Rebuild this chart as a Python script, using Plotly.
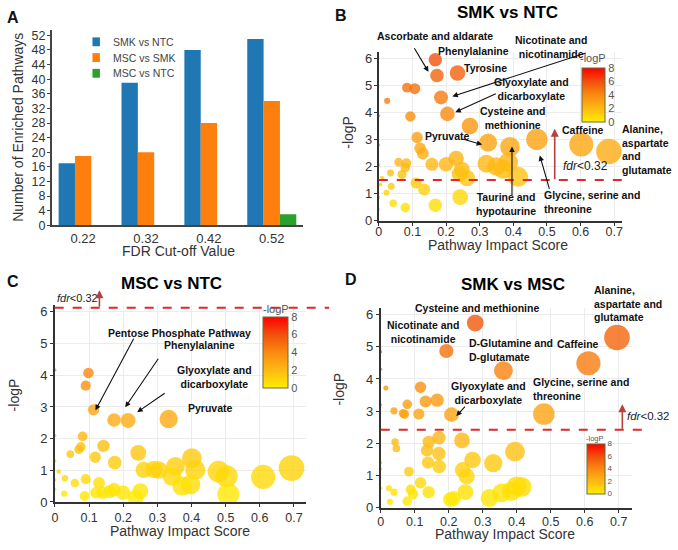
import math
import plotly.graph_objects as go

W, H = 678, 550
FONT = "Liberation Sans, Arial, sans-serif"

def px(x):
    return x / W

def py(y):
    return 1 - y / H

# ---------------- Panel A data ----------------
fdr_cutoffs = ["0.22", "0.32", "0.42", "0.52"]
series_names = ["SMK vs NTC", "MSC vs SMK", "MSC vs NTC"]
series_colors = ["#1f77b4", "#ff7f0e", "#2ca02c"]
smk_vs_ntc = [17, 39, 48, 51]
msc_vs_smk = [19, 20, 28, 34]
msc_vs_ntc = [0, 0, 0, 3]
a_yticks = list(range(0, 53, 4))

# ---------------- Panel B data (SMK vs NTC) ----------------
b_impact = [0.168, 0.173, 0.234, 0.084, 0.107, 0.025, 0.185, 0.204, 0.094, 0.271,
            0.114, 0.325, 0.390, 0.470, 0.602, 0.684, 0.123, 0.131, 0.158, 0.200,
            0.230, 0.247, 0.262, 0.240, 0.320, 0.350, 0.385, 0.414, 0.370, 0.059,
            0.082, 0.079, 0.069, 0.035, 0.010, 0.037, 0.023, 0.111, 0.135, 0.043,
            0.079, 0.168, 0.242, 0.005, 0.0, 0.0, 0.0, 0.0, 0.0]
b_logp = [5.94, 5.36, 5.45, 4.91, 4.87, 4.42, 4.55, 3.94, 3.85, 3.49,
          3.07, 2.88, 2.73, 3.00, 2.81, 2.55, 2.67, 2.48, 2.08, 2.08,
          2.30, 1.88, 1.57, 1.72, 2.10, 2.00, 2.15, 1.62, 1.90, 2.16,
          2.12, 1.96, 1.70, 1.76, 1.57, 1.27, 1.03, 1.39, 1.15, 0.64,
          0.48, 0.57, 0.87, 1.33, 3.87, 2.79, 2.06, 0.87, 0.42]

# ---------------- Panel C data (MSC vs NTC) ----------------
c_impact = [0.098, 0.090, 0.113, 0.173, 0.214, 0.333, 0.081, 0.076, 0.070, 0.045,
            0.142, 0.118, 0.175, 0.244, 0.260, 0.290, 0.011, 0.029, 0.058, 0.090,
            0.129, 0.027, 0.087, 0.120, 0.173, 0.200, 0.250, 0.401, 0.411, 0.479,
            0.503, 0.508, 0.610, 0.693, 0.397, 0.353, 0.343, 0.372, 0.304, 0.139,
            0.160, 0.236, 0.0, 0.0, 0.0, 0.0, 0.0]
c_logp = [4.07, 3.67, 2.91, 2.59, 2.57, 2.62, 2.07, 1.74, 1.66, 1.51,
          1.77, 1.41, 1.24, 1.55, 1.01, 1.03, 0.96, 0.75, 0.60, 0.72,
          0.60, 0.26, 0.19, 0.29, 0.39, 0.29, 0.34, 1.38, 1.01, 0.96,
          0.81, 0.24, 0.79, 1.07, 0.55, 1.12, 0.80, 0.50, 1.01, 0.29,
          0.33, 0.13, 4.17, 2.10, 1.30, 0.70, 0.40]

# ---------------- Panel D data (SMK vs MSC) ----------------
d_impact = [0.278, 0.193, 0.361, 0.695, 0.611, 0.480, 0.117, 0.078, 0.132, 0.166,
            0.112, 0.066, 0.039, 0.208, 0.070, 0.015, 0.042, 0.046, 0.141, 0.136,
            0.171, 0.171, 0.139, 0.172, 0.239, 0.270, 0.241, 0.253, 0.331, 0.395,
            0.083, 0.117, 0.088, 0.095, 0.141, 0.205, 0.249, 0.320, 0.356, 0.385,
            0.400, 0.078, 0.039, 0.024, 0.027, 0.214, 0.414, 0.0, 0.0, 0.0,
            0.0, 0.0, 0.0]
d_logp = [5.74, 4.87, 4.26, 5.29, 4.49, 2.91, 3.74, 3.21, 3.30, 3.34,
          2.91, 2.93, 3.01, 2.89, 2.90, 3.72, 2.04, 1.84, 2.04, 1.78,
          2.17, 1.68, 1.40, 1.28, 2.09, 1.48, 1.17, 0.97, 1.38, 1.74,
          1.12, 0.77, 0.56, 0.42, 0.48, 0.25, 0.48, 0.30, 0.46, 0.51,
          0.66, 0.20, 0.48, 0.60, 0.18, 0.28, 0.64, 4.85, 4.30, 3.20,
          1.40, 1.20, 0.60]

fdr_threshold_b = 1.5
fdr_threshold_c = 6.13
fdr_threshold_d = 2.42

colorscale = [[0, "#ffee00"], [0.25, "#ffb914"], [0.5, "#fa8a10"],
              [0.75, "#f2500c"], [1, "#ff0000"]]


def bubble_sizes(xs):
    return [max(3.0, 1.5 + 29 * math.sqrt(v)) for v in xs]


def cbar(x0, y0, length, thick, fs):
    return dict(x=px(x0), y=py(y0), xanchor="left", yanchor="top",
                len=length, lenmode="pixels", thickness=thick, thicknessmode="pixels",
                xpad=0, ypad=0, outlinewidth=1, outlinecolor="#6b6b3a",
                tickvals=[0, 2, 4, 6, 8], ticks="", ticklabelposition="outside",
                tickfont=dict(size=fs, color="#555", family=FONT))


def bubbles(xs, ys, xa, ya, cb):
    return go.Scatter(x=xs, y=ys, mode="markers", xaxis=xa, yaxis=ya, showlegend=False,
                      hoverinfo="x+y",
                      marker=dict(size=bubble_sizes(xs), color=ys, cmin=0, cmax=8,
                                  colorscale=colorscale, opacity=0.8,
                                  line=dict(width=0), showscale=True, colorbar=cb))


fig = go.Figure()
for name, vals, col in zip(series_names, [smk_vs_ntc, msc_vs_smk, msc_vs_ntc], series_colors):
    fig.add_trace(go.Bar(x=fdr_cutoffs, y=vals, name=name, showlegend=False,
                         marker=dict(color=col, line=dict(width=0)), xaxis="x", yaxis="y"))

fig.add_trace(bubbles(b_impact, b_logp, "x2", "y2", cbar(582, 68, 54, 23, 11)))
fig.add_trace(bubbles(c_impact, c_logp, "x3", "y3", cbar(262, 321, 71, 25, 11)))
fig.add_trace(bubbles(d_impact, d_logp, "x4", "y4", cbar(587, 450, 50, 18, 8)))


def axis_style(fs=13):
    return dict(showline=True, linecolor="#333", linewidth=2, ticks="outside", ticklen=3,
                tickcolor="#333", tickfont=dict(size=fs, color="#333", family=FONT),
                zeroline=False, fixedrange=True,
                showgrid=True, gridcolor="#ececec", gridwidth=1)


layout = dict(
    width=W, height=H, margin=dict(l=0, r=0, t=0, b=0),
    paper_bgcolor="white", plot_bgcolor="white",
    font=dict(family=FONT, color="#333"),
    bargap=0.22, bargroupgap=0, barmode="group",
    showlegend=False,
    xaxis=dict(domain=[px(49), px(302)], anchor="y", type="category",
               showline=True, linecolor="#444", linewidth=1.5, ticks="",
               tickfont=dict(size=13, color="#333", family=FONT), showgrid=False,
               ticklabelstandoff=0),
    yaxis=dict(domain=[py(228), py(29)], anchor="x", range=[0, 53.6], tickvals=a_yticks,
               showline=True, linecolor="#444", linewidth=1.5, ticks="outside", ticklen=3,
               tickcolor="#444", tickfont=dict(size=12.5, color="#333", family=FONT),
               showgrid=False, zeroline=False, ticklabelstandoff=-1),
    xaxis2=dict(domain=[px(378), px(623)], anchor="y2", range=[0, 0.724], dtick=0.1, tick0=0,
                ticklabelstandoff=-5, **axis_style(12.5)),
    yaxis2=dict(domain=[py(223.3), py(52)], anchor="x2", range=[0, 6.22], dtick=1,
                ticklabelstandoff=-1, **axis_style(13)),
    xaxis3=dict(domain=[px(52.3), px(305)], anchor="y3", range=[0, 0.736], dtick=0.1, tick0=0,
                ticklabelstandoff=0, **axis_style(12.5)),
    yaxis3=dict(domain=[py(509.3), py(309)], anchor="x3", range=[0, 6.22], dtick=1,
                ticklabelstandoff=0, **axis_style(13)),
    xaxis4=dict(domain=[px(380), px(633)], anchor="y4", range=[0, 0.74], dtick=0.1, tick0=0,
                ticklabelstandoff=-2, **axis_style(12.5)),
    yaxis4=dict(domain=[py(515), py(311.7)], anchor="x4", range=[0, 6.22], dtick=1,
                ticklabelstandoff=0, **axis_style(13)),
)

ann = []
shapes = []


def txt(x, y, s, size=10.5, bold=True, xanchor="center", align="center", color="#111",
        angle=0):
    t = "<b>" + s + "</b>" if bold else s
    ann.append(dict(xref="paper", yref="paper", x=px(x), y=py(y), text=t, showarrow=False,
                    xanchor=xanchor, yanchor="middle", align=align, textangle=angle,
                    borderpad=0, font=dict(size=size, color=color, family=FONT)))


def arrow(tx, ty, hx, hy, color="#111", width=1.1, head=2, size=1.0):
    ann.append(dict(xref="paper", yref="paper", x=px(hx), y=py(hy), ax=tx - hx, ay=ty - hy,
                    axref="pixel", ayref="pixel", text="", showarrow=True, arrowhead=head,
                    arrowsize=size, arrowwidth=width, arrowcolor=color, standoff=0))


# legend of panel A (drawn manually for tight spacing)
for i, (name, col) in enumerate(zip(series_names, series_colors)):
    cy = 41.5 + 16 * i
    shapes.append(dict(type="rect", xref="paper", yref="paper", x0=px(90), x1=px(97.5),
                       y0=py(cy + 4.5), y1=py(cy - 4.5), fillcolor=col, line=dict(width=0)))
    txt(110, cy, name, size=10.5, bold=False, xanchor="left", align="left", color="#444")

# panel letters and titles
txt(10, 17, "A", size=16)
txt(340, 15, "B", size=16)
txt(10, 285, "C", size=16)
txt(350, 283, "D", size=16)
txt(507, 12, "SMK vs NTC", size=17, color="#000")
txt(170, 287, "MSC vs NTC", size=17, color="#000")
txt(513, 288, "SMK vs MSC", size=17, color="#000")

# axis titles
txt(15, 128, "Number of Enriched Pathways", size=14, bold=False, angle=-90, color="#333")
txt(177, 254, "FDR Cut-off Value", size=14, bold=False, color="#333")
txt(347, 133, "-logP", size=14, bold=False, angle=-90, color="#333")
txt(498, 248, "Pathway Impact Score", size=14, bold=False, color="#333")
txt(12, 400, "-logP", size=14, bold=False, angle=-90, color="#333")
txt(178, 539, "Pathway Impact Score", size=14, bold=False, color="#333")
txt(338, 395, "-logP", size=14, bold=False, angle=-90, color="#333")
txt(505, 542, "Pathway Impact Score", size=14, bold=False, color="#333")

# colorbar titles
txt(593, 58, "-logP", size=11, bold=False, color="#555")
txt(275, 313, "-logP", size=11, bold=False, color="#555")
txt(596, 445, "-logP", size=7.5, bold=False, color="#555")

# Panel B labels
txt(435, 36, "Ascorbate and aldarate")
arrow(413, 47, 428, 72)
txt(473, 51, "Phenylalanine")
txt(485, 68, "Tyrosine")
txt(551, 47, "Nicotinate and<br>nicotinamide")
arrow(587, 53, 452, 97)
txt(532, 89, "Glyoxylate and<br>dicarboxylate")
arrow(497, 94, 455, 113)
txt(513, 119, "Cysteine and<br>methionine")
txt(447, 137, "Pyruvate")
arrow(461, 140, 482, 146)
txt(583, 131, "Caffeine")
txt(622, 151, "Alanine,<br>aspartate<br>and<br>glutamate", xanchor="left", align="left")
txt(506, 206, "Taurine and<br>hypotaurine")
arrow(512, 198, 512, 148)
txt(543, 204, "Glycine, serine and<br>threonine", xanchor="left", align="left")
arrow(550, 192, 540, 157)
txt(562, 168, "<i>fdr</i>&lt;0.32", size=12, bold=False, xanchor="left", color="#222")
arrow(555, 182, 555, 130, color="#b5403f", width=1.6, head=2)

# Panel C labels
txt(178, 338, "Pentose Phosphate Pathway")
arrow(132, 343, 93, 416)
txt(198, 350, "Phenylalanine")
arrow(157, 363, 123, 413)
txt(213, 382, "Glyoxylate and<br>dicarboxylate")
arrow(164, 398, 135, 418)
txt(209, 414, "Pyruvate")
txt(53, 302, "<i>fdr</i>&lt;0.32", size=11, bold=False, xanchor="left", color="#222")
arrow(97, 312, 97, 294, color="#b5403f", width=1.6, head=2)

# Panel D labels
txt(477, 312, "Cysteine and methionine")
txt(422, 337, "Nicotinate and<br>nicotinamide")
txt(468, 355, "D-Glutamine and<br>D-glutamate", xanchor="left", align="left")
txt(578, 349, "Caffeine")
txt(593, 308, "Alanine,<br>aspartate and<br>glutamate", xanchor="left", align="left")
txt(532, 394, "Glycine, serine and<br>threonine", xanchor="left", align="left")
txt(488, 399, "Glyoxylate and<br>dicarboxylate")
arrow(466, 411, 456, 422)
txt(627, 422, "<i>fdr</i>&lt;0.32", size=11.5, bold=False, xanchor="left", color="#222")
arrow(623, 436, 623, 410, color="#b5403f", width=1.6, head=2)

dash = dict(color="#e0282b", width=2, dash="dash")
shapes += [
    dict(type="line", xref="paper", yref="y2", x0=px(378), x1=px(627),
         y0=fdr_threshold_b, y1=fdr_threshold_b, line=dash),
    dict(type="line", xref="paper", yref="y3", x0=px(52), x1=px(328),
         y0=fdr_threshold_c, y1=fdr_threshold_c, line=dash),
    dict(type="line", xref="paper", yref="y4", x0=px(380), x1=px(646),
         y0=fdr_threshold_d, y1=fdr_threshold_d, line=dash),
]

layout["annotations"] = ann
layout["shapes"] = shapes

fig.update_layout(**layout)
fig.write_html("out.html", config={"displayModeBar": False},
               post_script="document.body.style.margin='0px';")
